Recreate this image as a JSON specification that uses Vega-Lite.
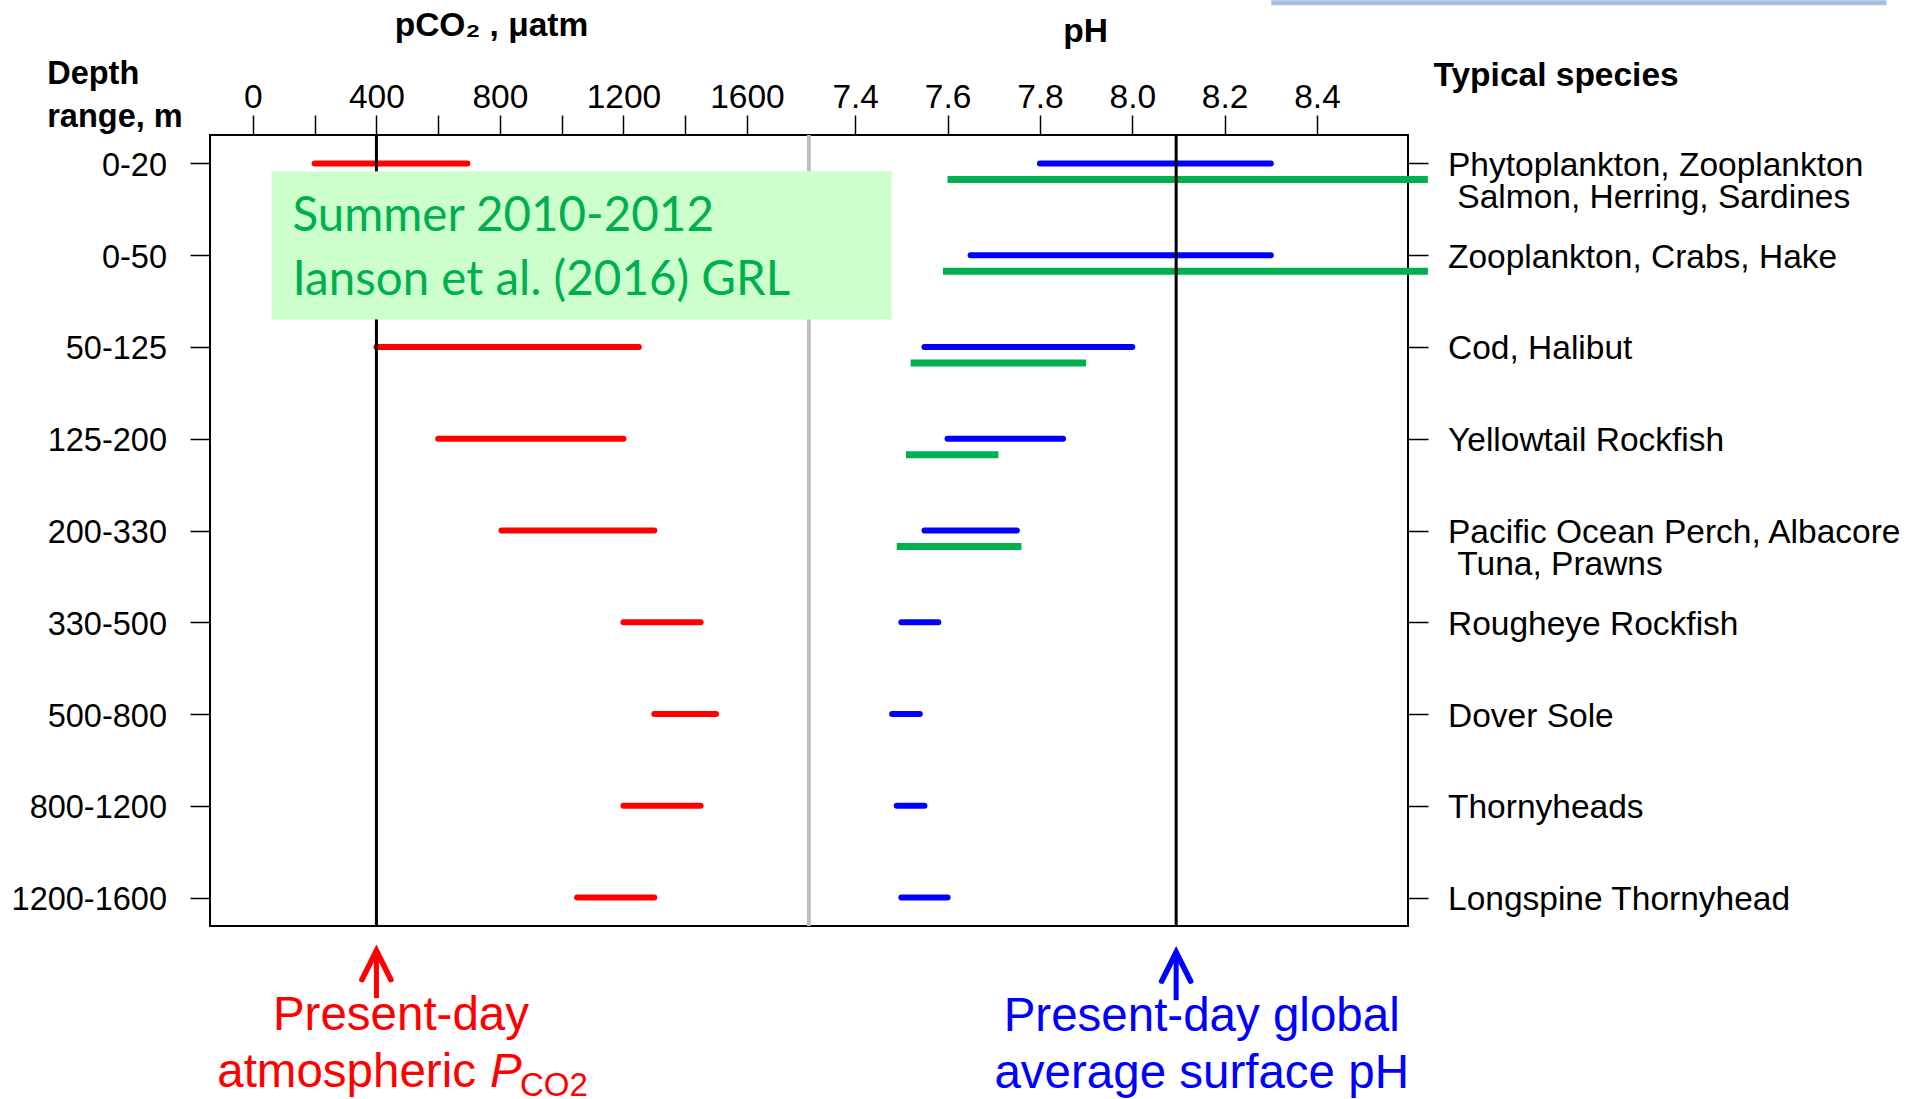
{
  "$schema": "https://vega.github.io/schema/vega-lite/v6.json",
  "width": 1198,
  "height": 791,
  "autosize": {"type": "none"},
  "padding": {"left": 210, "top": 135, "right": 517, "bottom": 173},
  "background": "white",
  "config": {
    "view": {"stroke": "black", "strokeWidth": 2},
    "font": "Liberation Sans",
    "axis": {
      "labelColor": "black", "titleColor": "black", "tickColor": "black", "tickWidth": 1.5,
      "domain": false, "grid": false, "labelFontSize": 32.5, "titleFontSize": 33.5,
      "titleFontWeight": "bold", "labelLimit": 0, "tickSize": 20, "labelOverlap": false
    }
  },
  "datasets": {
    "ranges": [
      {"depth": "0-20", "pco2_min": 200, "pco2_max": 695, "ph_min": 7.80, "ph_max": 8.30, "summer_ph_min": 7.60, "summer_ph_max": 8.64},
      {"depth": "0-50", "pco2_min": null, "pco2_max": null, "ph_min": 7.65, "ph_max": 8.30, "summer_ph_min": 7.59, "summer_ph_max": 8.64},
      {"depth": "50-125", "pco2_min": 400, "pco2_max": 1250, "ph_min": 7.55, "ph_max": 8.00, "summer_ph_min": 7.52, "summer_ph_max": 7.90},
      {"depth": "125-200", "pco2_min": 600, "pco2_max": 1200, "ph_min": 7.60, "ph_max": 7.85, "summer_ph_min": 7.51, "summer_ph_max": 7.71},
      {"depth": "200-330", "pco2_min": 805, "pco2_max": 1300, "ph_min": 7.55, "ph_max": 7.75, "summer_ph_min": 7.49, "summer_ph_max": 7.76},
      {"depth": "330-500", "pco2_min": 1200, "pco2_max": 1450, "ph_min": 7.50, "ph_max": 7.58, "summer_ph_min": null, "summer_ph_max": null},
      {"depth": "500-800", "pco2_min": 1300, "pco2_max": 1500, "ph_min": 7.48, "ph_max": 7.54, "summer_ph_min": null, "summer_ph_max": null},
      {"depth": "800-1200", "pco2_min": 1200, "pco2_max": 1450, "ph_min": 7.49, "ph_max": 7.55, "summer_ph_min": null, "summer_ph_max": null},
      {"depth": "1200-1600", "pco2_min": 1050, "pco2_max": 1300, "ph_min": 7.50, "ph_max": 7.60, "summer_ph_min": null, "summer_ph_max": null}
    ]
  },
  "data": {"name": "ranges"},
  "resolve": {"scale": {"x": "independent"}, "axis": {"x": "independent", "y": "independent"}},
  "layer": [
    {
      "transform": [{"filter": "isValid(datum.pco2_min)"}],
      "mark": {"type": "rule", "color": "#FF0000", "strokeWidth": 6, "strokeCap": "round"},
      "encoding": {
        "x": {
          "field": "pco2_min", "type": "quantitative",
          "scale": {"domain": [-139, 3741], "nice": false, "zero": false},
          "axis": {
            "orient": "top", "values": [0, 200, 400, 600, 800, 1000, 1200, 1400, 1600], "format": "d",
            "labelExpr": "datum.value % 400 == 0 ? datum.label : ''", "labelFontSize": 33.5,
            "labelBaseline": "alphabetic", "labelPadding": 8, "labelFlush": false,
            "title": "pCO₂ , μatm", "titleX": 281, "titleY": -99.5, "titleAlign": "center",
            "titleBaseline": "alphabetic", "titleAngle": 0
          }
        },
        "x2": {"field": "pco2_max"},
        "y": {
          "field": "depth", "type": "nominal",
          "scale": {"type": "point", "domain": ["0-20", "0-50", "50-125", "125-200", "200-330", "330-500", "500-800", "800-1200", "1200-1600"], "padding": 0.31},
          "axis": {
            "orient": "left", "title": ["Depth", "range, m"], "titleAngle": 0, "titleAlign": "left", "titleFontSize": 32.5,
            "titleBaseline": "alphabetic", "titleX": -163.3, "titleY": -51.5, "titleLineHeight": 43,
            "labelAlign": "right", "labelBaseline": "alphabetic", "labelOffset": 12, "labelPadding": 23.5
          }
        }
      }
    },
    {
      "mark": {"type": "rule", "color": "#0000FF", "strokeWidth": 6, "strokeCap": "round"},
      "encoding": {
        "x": {
          "field": "ph_min", "type": "quantitative",
          "scale": {"domain": [6.003, 8.597], "nice": false, "zero": false},
          "axis": {
            "orient": "top", "values": [7.4, 7.6, 7.8, 8.0, 8.2, 8.4], "format": ".1f", "labelFontSize": 33.5,
            "labelBaseline": "alphabetic", "labelPadding": 8, "labelFlush": false,
            "title": "pH", "titleX": 875, "titleY": -94, "titleAlign": "center",
            "titleBaseline": "alphabetic", "titleAngle": 0
          }
        },
        "x2": {"field": "ph_max"},
        "y": {
          "field": "depth", "type": "nominal",
          "scale": {"type": "point", "domain": ["0-20", "0-50", "50-125", "125-200", "200-330", "330-500", "500-800", "800-1200", "1200-1600"], "padding": 0.31},
          "axis": {
            "orient": "right", "title": "Typical species", "titleAngle": 0, "titleAlign": "left",
            "titleBaseline": "alphabetic", "titleX": 25, "titleY": -50, "labelFontSize": 33.5,
            "labelAlign": "left", "labelBaseline": "alphabetic", "labelOffset": 12, "labelPadding": 19.5, "labelLineHeight": 32,
            "labelExpr": "datum.value == '0-20' ? ['Phytoplankton, Zooplankton', '\u200b\u00a0Salmon, Herring, Sardines'] : datum.value == '0-50' ? 'Zooplankton, Crabs, Hake' : datum.value == '50-125' ? 'Cod, Halibut' : datum.value == '125-200' ? 'Yellowtail Rockfish' : datum.value == '200-330' ? ['Pacific Ocean Perch, Albacore', '\u200b\u00a0Tuna, Prawns'] : datum.value == '330-500' ? 'Rougheye Rockfish' : datum.value == '500-800' ? 'Dover Sole' : datum.value == '800-1200' ? 'Thornyheads' : 'Longspine Thornyhead'"
          }
        }
      }
    },
    {
      "mark": {"type": "rule", "color": "#BEBEBE", "strokeWidth": 3},
      "encoding": {"x": {"datum": 1800, "type": "quantitative", "scale": {"domain": [-139, 3741], "nice": false, "zero": false}, "axis": null}}
    },
    {
      "data": {"values": [{"pco2_atm": 400}]},
      "mark": {"type": "rule", "color": "black", "strokeWidth": 3},
      "encoding": {"x": {"field": "pco2_atm", "type": "quantitative", "scale": {"domain": [-139, 3741], "nice": false, "zero": false}, "axis": null}}
    },
    {
      "data": {"values": [{"note": "Summer 2010-2012\nIanson et al. (2016) GRL"}]},
      "mark": {"type": "rect", "color": "#CCFFCC", "yOffset": 7.7, "y2Offset": -27.5},
      "encoding": {
        "x": {"datum": 60, "type": "quantitative", "scale": {"domain": [-139, 3741], "nice": false, "zero": false}, "axis": null},
        "x2": {"datum": 2069},
        "y": {"datum": "0-20", "type": "nominal", "scale": {"type": "point", "domain": ["0-20", "0-50", "50-125", "125-200", "200-330", "330-500", "500-800", "800-1200", "1200-1600"], "padding": 0.31}, "axis": null},
        "y2": {"datum": "50-125"}
      }
    },
    {
      "data": {"values": [{"note": "Summer 2010-2012\nIanson et al. (2016) GRL"}]},
      "mark": {"type": "text", "font": "Lato", "fontSize": 47.5, "color": "#00B050", "align": "left", "baseline": "alphabetic", "lineBreak": "\n", "lineHeight": 64.3, "dx": 21, "yOffset": 67.4},
      "encoding": {
        "x": {"datum": 60, "type": "quantitative", "scale": {"domain": [-139, 3741], "nice": false, "zero": false}, "axis": null},
        "y": {"datum": "0-20", "type": "nominal", "scale": {"type": "point", "domain": ["0-20", "0-50", "50-125", "125-200", "200-330", "330-500", "500-800", "800-1200", "1200-1600"], "padding": 0.31}, "axis": null},
        "text": {"field": "note"}
      }
    },
    {
      "data": {"values": [{"band_start": 8.301, "band_end": 9.633}]},
      "mark": {"type": "rect", "color": "#A7BFDE", "yOffset": -163.3, "y2Offset": -158.3},
      "encoding": {
        "x": {"field": "band_start", "type": "quantitative", "scale": {"domain": [6.003, 8.597], "nice": false, "zero": false}, "axis": null},
        "x2": {"field": "band_end"},
        "y": {"datum": "0-20", "type": "nominal", "scale": {"type": "point", "domain": ["0-20", "0-50", "50-125", "125-200", "200-330", "330-500", "500-800", "800-1200", "1200-1600"], "padding": 0.31}, "axis": null},
        "y2": {"datum": "0-20"}
      }
    },
    {
      "transform": [{"filter": "isValid(datum.summer_ph_min)"}],
      "mark": {"type": "rule", "color": "#00B050", "strokeWidth": 7, "strokeCap": "butt", "yOffset": 16},
      "encoding": {
        "x": {"field": "summer_ph_min", "type": "quantitative", "scale": {"domain": [6.003, 8.597], "nice": false, "zero": false}, "axis": null},
        "x2": {"field": "summer_ph_max"},
        "y": {"field": "depth", "type": "nominal", "scale": {"type": "point", "domain": ["0-20", "0-50", "50-125", "125-200", "200-330", "330-500", "500-800", "800-1200", "1200-1600"], "padding": 0.31}, "axis": null}
      }
    },
    {
      "data": {"values": [{"ph_global": 8.095}]},
      "mark": {"type": "rule", "color": "black", "strokeWidth": 3},
      "encoding": {"x": {"field": "ph_global", "type": "quantitative", "scale": {"domain": [6.003, 8.597], "nice": false, "zero": false}, "axis": null}}
    },
    {
      "data": {"values": [{"pco2_atm": 400}]},
      "mark": {"type": "rule", "color": "#FF0000", "strokeWidth": 5, "yOffset": 57, "y2Offset": 100.6},
      "encoding": {
        "x": {"field": "pco2_atm", "type": "quantitative", "scale": {"domain": [-139, 3741], "nice": false, "zero": false}, "axis": null},
        "y": {"datum": "1200-1600", "type": "nominal", "scale": {"type": "point", "domain": ["0-20", "0-50", "50-125", "125-200", "200-330", "330-500", "500-800", "800-1200", "1200-1600"], "padding": 0.31}, "axis": null},
        "y2": {"datum": "1200-1600"}
      }
    },
    {
      "data": {"values": [{"pco2_atm": 400}]},
      "mark": {"type": "point", "shape": "M-1,1L0,-1L1,1", "size": 841, "filled": false, "color": "#FF0000", "strokeWidth": 5.5, "strokeCap": "round", "strokeJoin": "miter", "opacity": 1, "yOffset": 67.6},
      "encoding": {
        "x": {"field": "pco2_atm", "type": "quantitative", "scale": {"domain": [-139, 3741], "nice": false, "zero": false}, "axis": null},
        "y": {"datum": "1200-1600", "type": "nominal", "scale": {"type": "point", "domain": ["0-20", "0-50", "50-125", "125-200", "200-330", "330-500", "500-800", "800-1200", "1200-1600"], "padding": 0.31}, "axis": null}
      }
    },
    {
      "data": {"values": [{"pco2_atm": 400, "label": "Present-day"}]},
      "mark": {"type": "text", "color": "#FF0000", "fontSize": 47.5, "align": "center", "baseline": "alphabetic", "dx": 24.5, "yOffset": 132.6},
      "encoding": {
        "x": {"field": "pco2_atm", "type": "quantitative", "scale": {"domain": [-139, 3741], "nice": false, "zero": false}, "axis": null},
        "y": {"datum": "1200-1600", "type": "nominal", "scale": {"type": "point", "domain": ["0-20", "0-50", "50-125", "125-200", "200-330", "330-500", "500-800", "800-1200", "1200-1600"], "padding": 0.31}, "axis": null},
        "text": {"field": "label"}
      }
    },
    {
      "data": {"values": [{"pco2_atm": 400, "label": "atmospheric"}]},
      "mark": {"type": "text", "color": "#FF0000", "fontSize": 47.5, "align": "left", "baseline": "alphabetic", "dx": -159.2, "yOffset": 189.3},
      "encoding": {
        "x": {"field": "pco2_atm", "type": "quantitative", "scale": {"domain": [-139, 3741], "nice": false, "zero": false}, "axis": null},
        "y": {"datum": "1200-1600", "type": "nominal", "scale": {"type": "point", "domain": ["0-20", "0-50", "50-125", "125-200", "200-330", "330-500", "500-800", "800-1200", "1200-1600"], "padding": 0.31}, "axis": null},
        "text": {"field": "label"}
      }
    },
    {
      "data": {"values": [{"pco2_atm": 400, "label": "P"}]},
      "mark": {"type": "text", "color": "#FF0000", "fontSize": 47.5, "fontStyle": "italic", "align": "left", "baseline": "alphabetic", "dx": 113.5, "yOffset": 189.3},
      "encoding": {
        "x": {"field": "pco2_atm", "type": "quantitative", "scale": {"domain": [-139, 3741], "nice": false, "zero": false}, "axis": null},
        "y": {"datum": "1200-1600", "type": "nominal", "scale": {"type": "point", "domain": ["0-20", "0-50", "50-125", "125-200", "200-330", "330-500", "500-800", "800-1200", "1200-1600"], "padding": 0.31}, "axis": null},
        "text": {"field": "label"}
      }
    },
    {
      "data": {"values": [{"pco2_atm": 400, "label": "CO2"}]},
      "mark": {"type": "text", "color": "#FF0000", "fontSize": 33, "align": "left", "baseline": "alphabetic", "dx": 143.5, "yOffset": 198.5},
      "encoding": {
        "x": {"field": "pco2_atm", "type": "quantitative", "scale": {"domain": [-139, 3741], "nice": false, "zero": false}, "axis": null},
        "y": {"datum": "1200-1600", "type": "nominal", "scale": {"type": "point", "domain": ["0-20", "0-50", "50-125", "125-200", "200-330", "330-500", "500-800", "800-1200", "1200-1600"], "padding": 0.31}, "axis": null},
        "text": {"field": "label"}
      }
    },
    {
      "data": {"values": [{"ph_global": 8.095}]},
      "mark": {"type": "rule", "color": "#0000FF", "strokeWidth": 5, "yOffset": 58.5, "y2Offset": 102.6},
      "encoding": {
        "x": {"field": "ph_global", "type": "quantitative", "scale": {"domain": [6.003, 8.597], "nice": false, "zero": false}, "axis": null},
        "y": {"datum": "1200-1600", "type": "nominal", "scale": {"type": "point", "domain": ["0-20", "0-50", "50-125", "125-200", "200-330", "330-500", "500-800", "800-1200", "1200-1600"], "padding": 0.31}, "axis": null},
        "y2": {"datum": "1200-1600"}
      }
    },
    {
      "data": {"values": [{"ph_global": 8.095}]},
      "mark": {"type": "point", "shape": "M-1,1L0,-1L1,1", "size": 841, "filled": false, "color": "#0000FF", "strokeWidth": 5.5, "strokeCap": "round", "strokeJoin": "miter", "opacity": 1, "yOffset": 69.1},
      "encoding": {
        "x": {"field": "ph_global", "type": "quantitative", "scale": {"domain": [6.003, 8.597], "nice": false, "zero": false}, "axis": null},
        "y": {"datum": "1200-1600", "type": "nominal", "scale": {"type": "point", "domain": ["0-20", "0-50", "50-125", "125-200", "200-330", "330-500", "500-800", "800-1200", "1200-1600"], "padding": 0.31}, "axis": null}
      }
    },
    {
      "data": {"values": [{"ph_global": 8.095, "label": "Present-day global\naverage surface pH"}]},
      "mark": {"type": "text", "color": "#0000FF", "fontSize": 47.5, "align": "center", "baseline": "alphabetic", "lineBreak": "\n", "lineHeight": 57.3, "dx": 25.5, "yOffset": 133.6},
      "encoding": {
        "x": {"field": "ph_global", "type": "quantitative", "scale": {"domain": [6.003, 8.597], "nice": false, "zero": false}, "axis": null},
        "y": {"datum": "1200-1600", "type": "nominal", "scale": {"type": "point", "domain": ["0-20", "0-50", "50-125", "125-200", "200-330", "330-500", "500-800", "800-1200", "1200-1600"], "padding": 0.31}, "axis": null},
        "text": {"field": "label"}
      }
    }
  ]
}
